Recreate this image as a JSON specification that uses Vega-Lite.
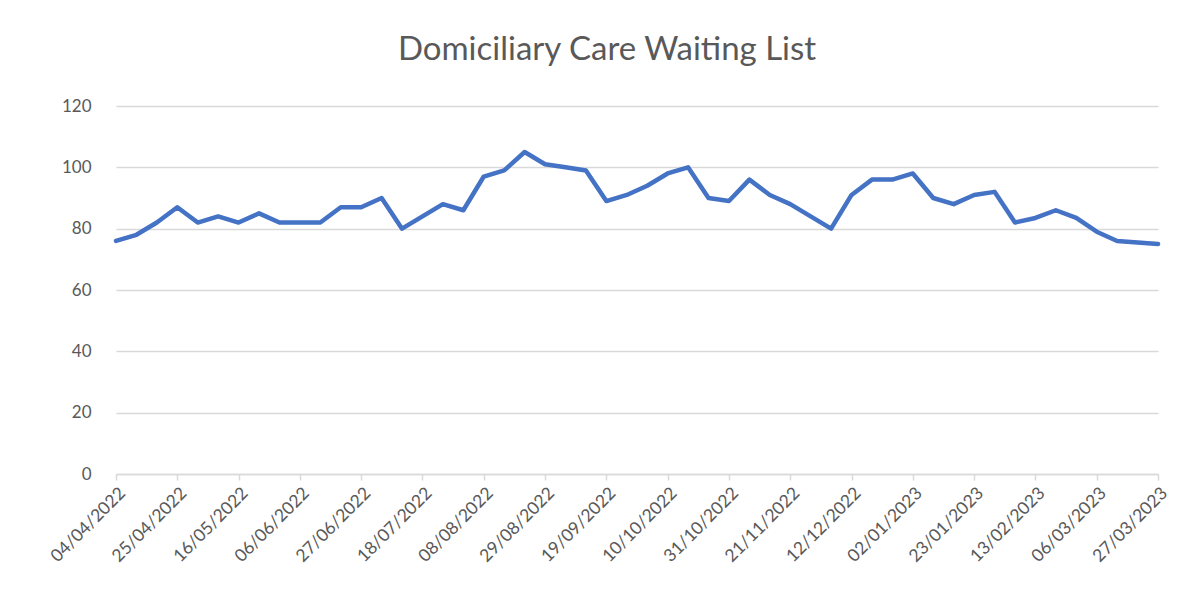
{
  "$schema": "https://vega.github.io/schema/vega-lite/v6.json",
  "width": 1042,
  "height": 368,
  "autosize": {"type": "none"},
  "padding": {"left": 116, "top": 106, "right": 38, "bottom": 126},
  "background": "white",
  "title": {
    "text": "Domiciliary Care Waiting List",
    "font": "Lato",
    "fontSize": 33,
    "fontWeight": "normal",
    "color": "#595959",
    "anchor": "middle",
    "dx": -30,
    "offset": 30
  },
  "config": {"view": {"stroke": null}},
  "data": {
    "values": [
      {"week": "04/04/2022", "count": 76},
      {"week": "11/04/2022", "count": 78},
      {"week": "18/04/2022", "count": 82},
      {"week": "25/04/2022", "count": 87},
      {"week": "02/05/2022", "count": 82},
      {"week": "09/05/2022", "count": 84},
      {"week": "16/05/2022", "count": 82},
      {"week": "23/05/2022", "count": 85},
      {"week": "30/05/2022", "count": 82},
      {"week": "06/06/2022", "count": 82},
      {"week": "13/06/2022", "count": 82},
      {"week": "20/06/2022", "count": 87},
      {"week": "27/06/2022", "count": 87},
      {"week": "04/07/2022", "count": 90},
      {"week": "11/07/2022", "count": 80},
      {"week": "18/07/2022", "count": 84},
      {"week": "25/07/2022", "count": 88},
      {"week": "01/08/2022", "count": 86},
      {"week": "08/08/2022", "count": 97},
      {"week": "15/08/2022", "count": 99},
      {"week": "22/08/2022", "count": 105},
      {"week": "29/08/2022", "count": 101},
      {"week": "05/09/2022", "count": 100},
      {"week": "12/09/2022", "count": 99},
      {"week": "19/09/2022", "count": 89},
      {"week": "26/09/2022", "count": 91},
      {"week": "03/10/2022", "count": 94},
      {"week": "10/10/2022", "count": 98},
      {"week": "17/10/2022", "count": 100},
      {"week": "24/10/2022", "count": 90},
      {"week": "31/10/2022", "count": 89},
      {"week": "07/11/2022", "count": 96},
      {"week": "14/11/2022", "count": 91},
      {"week": "21/11/2022", "count": 88},
      {"week": "28/11/2022", "count": 84},
      {"week": "05/12/2022", "count": 80},
      {"week": "12/12/2022", "count": 91},
      {"week": "19/12/2022", "count": 96},
      {"week": "26/12/2022", "count": 96},
      {"week": "02/01/2023", "count": 98},
      {"week": "09/01/2023", "count": 90},
      {"week": "16/01/2023", "count": 88},
      {"week": "23/01/2023", "count": 91},
      {"week": "30/01/2023", "count": 92},
      {"week": "06/02/2023", "count": 82},
      {"week": "13/02/2023", "count": 83.5},
      {"week": "20/02/2023", "count": 86},
      {"week": "27/02/2023", "count": 83.5},
      {"week": "06/03/2023", "count": 79},
      {"week": "13/03/2023", "count": 76},
      {"week": "20/03/2023", "count": 75.5},
      {"week": "27/03/2023", "count": 75}
    ]
  },
  "mark": {"type": "line", "color": "#4472c4", "strokeWidth": 4.5, "strokeJoin": "round", "strokeCap": "round"},
  "encoding": {
    "x": {
      "field": "week",
      "type": "ordinal",
      "sort": null,
      "scale": {"type": "point", "padding": 0},
      "axis": {
        "title": null,
        "values": ["04/04/2022", "25/04/2022", "16/05/2022", "06/06/2022", "27/06/2022", "18/07/2022", "08/08/2022", "29/08/2022", "19/09/2022", "10/10/2022", "31/10/2022", "21/11/2022", "12/12/2022", "02/01/2023", "23/01/2023", "13/02/2023", "06/03/2023", "27/03/2023"],
        "labelAngle": -45,
        "labelFont": "Lato",
        "labelFontSize": 17.5,
        "labelColor": "#595959",
        "labelPadding": 4,
        "domainColor": "#d9d9d9",
        "domainWidth": 1.5,
        "tickColor": "#d9d9d9",
        "tickWidth": 1.5,
        "tickSize": 6,
        "grid": false
      }
    },
    "y": {
      "field": "count",
      "type": "quantitative",
      "scale": {"domain": [0, 120]},
      "axis": {
        "title": null,
        "values": [0, 20, 40, 60, 80, 100, 120],
        "labelFont": "Lato",
        "labelFontSize": 17,
        "labelColor": "#595959",
        "labelPadding": 25,
        "domain": false,
        "ticks": false,
        "gridColor": "#d9d9d9",
        "gridWidth": 1.5
      }
    }
  }
}
